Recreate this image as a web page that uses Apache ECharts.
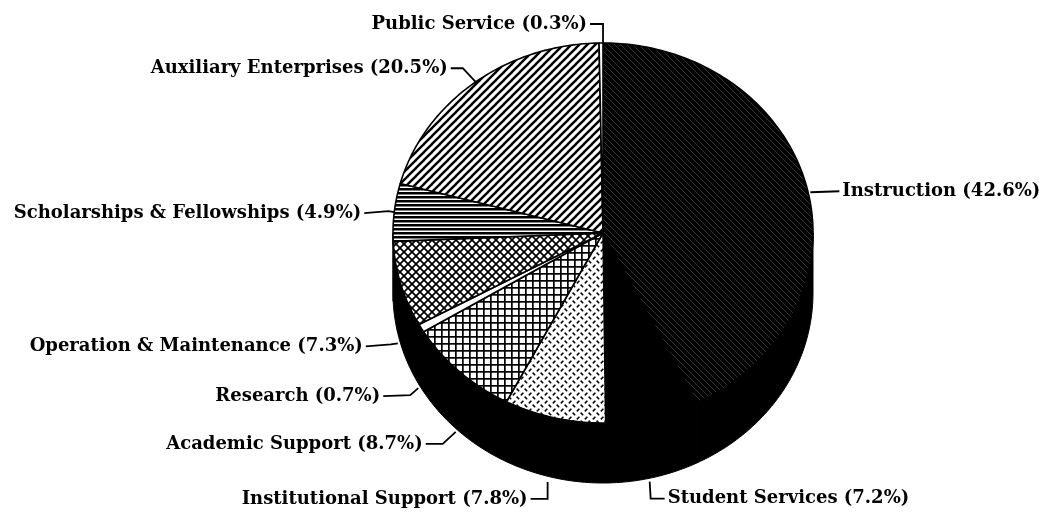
<!DOCTYPE html>
<html>
<head>
<meta charset="utf-8">
<script src="https://cdn.jsdelivr.net/npm/echarts@6.0.0/dist/echarts.min.js"></script>
<style>
  html, body { margin: 0; padding: 0; background: #fff; }
  #chart { width: 1039px; height: 517px; }
</style>
</head>
<body>
<div id="chart"></div>
<script>
// Expenditure shares by function, listed clockwise from 12 o'clock
const categories = [
  'Instruction',
  'Student Services',
  'Institutional Support',
  'Academic Support',
  'Research',
  'Operation & Maintenance',
  'Scholarships & Fellowships',
  'Auxiliary Enterprises',
  'Public Service'
];
const shares = [42.6, 7.2, 7.8, 8.7, 0.7, 7.3, 4.9, 20.5, 0.3];

// ---- drawing layout (pixels) ----
const CX = 603, CY = 233;      // centre of the top face
const RX = 210, RY = 190;      // radii of the tilted top ellipse
const DEPTH = 60;              // thickness of the disc
const FONT = 'bold 18px "DejaVu Serif"';

// leader polylines as offsets from each slice's rim anchor; text sits at the last point
const leaderOffsets = [
  [[3, 3], [32, 2]],
  [[-3, 4], [-2, 21], [12, 21]],
  [[-7, 4], [-7, 21], [-24, 21]],
  [[-4, 0], [-17, 12], [-34, 12]],
  [[-3, 0], [-11, 7], [-38, 8]],
  [[-3, -1], [-10, 0], [-35, 2]],
  [[0, 0], [-6, -1], [-30, 1]],
  [[3, 0], [-11, -15], [-23, -15]],
  [[2, 0], [2, -19], [-11, -19]]
];
const labelAlign = ['left', 'left', 'right', 'right', 'right', 'right', 'right', 'right', 'right'];

// ---- monochrome hatch fills ----
function tile(w, h, draw) {
  const c = document.createElement('canvas');
  c.width = w; c.height = h;
  const g = c.getContext('2d');
  draw(g, w, h);
  return { image: c, repeat: 'repeat' };
}
function line(g, x0, y0, x1, y1) { g.beginPath(); g.moveTo(x0, y0); g.lineTo(x1, y1); g.stroke(); }

const fills = [
  // Instruction: near-black with faint "\" streaks
  tile(6, 6, (g, w, h) => {
    g.fillStyle = '#000'; g.fillRect(0, 0, w, h);
    g.strokeStyle = 'rgba(255,255,255,0.25)'; g.lineWidth = 0.8;
    line(g, -1, -1, w + 1, h + 1);
    line(g, -w - 1, -1, 1, h + 1);
    line(g, w - 1, -1, 2 * w + 1, h + 1);
  }),
  // Student Services: solid black
  '#000',
  // Institutional Support: diamond-plate dashes
  tile(8, 8, (g, w, h) => {
    g.fillStyle = '#fff'; g.fillRect(0, 0, w, h);
    g.strokeStyle = '#000'; g.lineWidth = 1.5; g.lineCap = 'butt';
    line(g, 0.8, 3.4, 3.4, 0.8);
    line(g, 4.6, 4.6, 7.2, 7.2);
  }),
  // Academic Support: square grid
  tile(7, 7, (g, w, h) => {
    g.fillStyle = '#fff'; g.fillRect(0, 0, w, h);
    g.fillStyle = '#000';
    g.fillRect(0, 0, w, 1.7);
    g.fillRect(0, 0, 1.7, h);
  }),
  // Research: plain
  '#fff',
  // Operation & Maintenance: diagonal crosshatch
  tile(8, 8, (g, w, h) => {
    g.fillStyle = '#fff'; g.fillRect(0, 0, w, h);
    g.strokeStyle = '#000'; g.lineWidth = 1.7;
    line(g, -1, -1, w + 1, h + 1);
    line(g, -1, h + 1, w + 1, -1);
  }),
  // Scholarships & Fellowships: horizontal rules
  tile(4, 4, (g, w, h) => {
    g.fillStyle = '#fff'; g.fillRect(0, 0, w, h);
    g.fillStyle = '#000'; g.fillRect(0, 0, w, 2.5);
  }),
  // Auxiliary Enterprises: "/" stripes
  tile(8, 8, (g, w, h) => {
    g.fillStyle = '#fff'; g.fillRect(0, 0, w, h);
    g.strokeStyle = '#000'; g.lineWidth = 2.4;
    line(g, -1, h + 1, w + 1, -1);
    line(g, -w / 2 - 1, h / 2 + 1, w / 2 + 1, -h / 2 - 1);
    line(g, w / 2 - 1, 1.5 * h + 1, 1.5 * w + 1, h / 2 - 1);
  }),
  // Public Service: plain
  '#fff'
];

// ---- geometry helpers ----
const total = shares.reduce((s, v) => s + v, 0);
const starts = [];
shares.reduce((acc, v, i) => { starts[i] = acc; return acc + v; }, 0);

function pt(deg, dy) {
  const r = deg * Math.PI / 180;
  return [CX + RX * Math.sin(r), CY - RY * Math.cos(r) + (dy || 0)];
}
function arc(a0, a1, dy) {
  const pts = [];
  const n = Math.max(2, Math.ceil((a1 - a0) / 1));
  for (let k = 0; k <= n; k++) pts.push(pt(a0 + (a1 - a0) * k / n, dy));
  return pts;
}

const chart = echarts.init(document.getElementById('chart'), null, { renderer: 'canvas' });

chart.setOption({
  backgroundColor: '#fff',
  animation: false,
  series: [{
    type: 'custom',
    coordinateSystem: 'none',
    data: shares.map((v, i) => ({ name: categories[i], value: v })),
    renderItem(params, api) {
      const i = params.dataIndex;
      const a0 = 360 * starts[i] / total;
      const a1 = a0 + 360 * api.value(0) / total;
      const children = [];

      // visible wall of the disc (front half only)
      const s0 = Math.max(a0, 90), s1 = Math.min(a1, 270);
      if (s1 > s0) {
        const wall = arc(s0, s1, 0).concat(arc(s0, s1, DEPTH).reverse());
        children.push({
          type: 'polygon',
          shape: { points: wall },
          style: { fill: '#000', stroke: '#000', lineWidth: 1 }
        });
      }

      // top face of the slice
      children.push({
        type: 'polygon',
        shape: { points: [[CX, CY]].concat(arc(a0, a1, 0)) },
        style: { fill: fills[i], stroke: '#000', lineWidth: 1.6, lineJoin: 'round' }
      });

      // leader and label
      const mid = (a0 + a1) / 2;
      const front = Math.cos(mid * Math.PI / 180) < 0;
      const anchor = pt(mid, front ? DEPTH : 0);
      const path = leaderOffsets[i].map(o => [anchor[0] + o[0], anchor[1] + o[1]]);
      children.push({
        type: 'polyline',
        shape: { points: path },
        style: { stroke: '#000', lineWidth: 1.8, fill: null }
      });
      const end = path[path.length - 1];
      const toRight = labelAlign[i] === 'left';
      children.push({
        type: 'text',
        x: end[0] + (toRight ? 3 : -3),
        y: end[1],
        style: {
          text: categories[i] + ' (' + api.value(0).toFixed(1) + '%)',
          align: labelAlign[i],
          verticalAlign: 'middle',
          font: FONT,
          fill: '#000'
        }
      });

      return { type: 'group', children };
    }
  }]
});
</script>
</body>
</html>
